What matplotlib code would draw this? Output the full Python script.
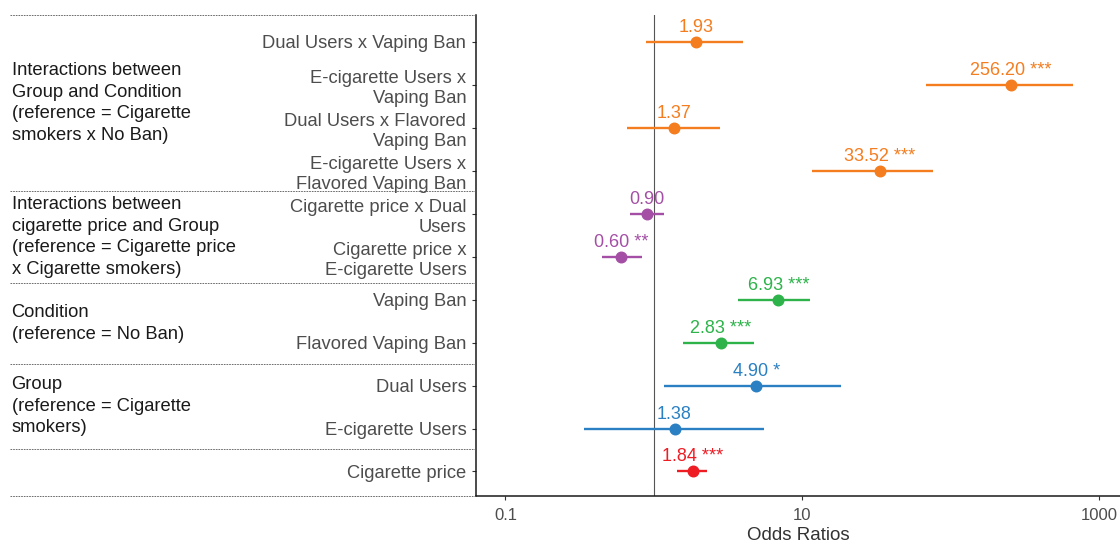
import matplotlib
matplotlib.use("Agg")
import matplotlib.pyplot as plt
from matplotlib.lines import Line2D
from matplotlib.ticker import NullLocator
from matplotlib.transforms import blended_transform_factory
import numpy as np

plt.rcParams['font.family'] = ['Liberation Sans', 'DejaVu Sans']

# Model terms, listed top to bottom
terms = [
    "Dual Users x Vaping Ban",
    "E-cigarette Users x\nVaping Ban",
    "Dual Users x Flavored\nVaping Ban",
    "E-cigarette Users x\nFlavored Vaping Ban",
    "Cigarette price x Dual\nUsers",
    "Cigarette price x\nE-cigarette Users",
    "Vaping Ban",
    "Flavored Vaping Ban",
    "Dual Users",
    "E-cigarette Users",
    "Cigarette price",
]
odds_ratios = [1.93, 256.20, 1.37, 33.52, 0.90, 0.60, 6.93, 2.83, 4.90, 1.38, 1.84]
ci_lower = [0.89, 68.0, 0.66, 11.6, 0.69, 0.45, 3.72, 1.58, 1.18, 0.34, 1.43]
ci_upper = [3.97, 675.0, 2.78, 76.0, 1.17, 0.83, 11.3, 4.75, 18.2, 5.5, 2.27]
significance = ["", "***", "", "***", "", "**", "***", "***", "*", "", "***"]
term_block = ["interaction", "interaction", "interaction", "interaction",
              "price_group", "price_group",
              "condition", "condition",
              "group", "group",
              "price"]

block_colors = {
    "interaction": "#F47D20",
    "price_group": "#A44FA5",
    "condition": "#2DB34A",
    "group": "#2A80C2",
    "price": "#EE1D24",
}

# Section headings for the left-hand table
section_titles = [
    "Interactions between\nGroup and Condition\n(reference = Cigarette\nsmokers x No Ban)",
    "Interactions between\ncigarette price and Group\n(reference = Cigarette price\nx Cigarette smokers)",
    "Condition\n(reference = No Ban)",
    "Group\n(reference = Cigarette\nsmokers)",
    "",
]
section_edges = [-0.62, 3.47, 5.62, 7.49, 9.48, 10.57]

x_ticks = [0.1, 10, 1000]
x_tick_labels = ["0.1", "10", "1000"]

W, H = 1120, 544
fig = plt.figure(figsize=(W / 100, H / 100), dpi=100)
ax = fig.add_axes([476 / W, 48 / H, (W - 476) / W, 481 / H])

rows = np.arange(len(terms))
ax.axvline(1, color="#555555", lw=0.8, zorder=1)

for i, (orv, lo, hi, sig, blk) in enumerate(zip(odds_ratios, ci_lower, ci_upper,
                                                significance, term_block)):
    c = block_colors[blk]
    ax.plot([lo, hi], [i, i], color=c, lw=1.7, solid_capstyle="butt", zorder=3)
    ax.plot(orv, i, "o", ms=7.6, color=c, mec=c, zorder=4)
    label = f"{orv:.2f}" + (f" {sig}" if sig else "")
    ax.annotate(label, (orv, i), xytext=(0, 7.2), textcoords="offset points",
                ha="center", va="baseline", color=c, fontsize=13)

ax.set_xscale("log")
ax.set_xlim(0.0633, 1390)
ax.set_ylim(10.57, -0.62)
ax.set_xticks(x_ticks)
ax.set_xticklabels(x_tick_labels)
ax.xaxis.set_minor_locator(NullLocator())
ax.set_yticks(rows)
ax.set_yticklabels(terms, linespacing=1.28)

for lab in ax.get_yticklabels():
    lab.set_fontsize(13.2)
    lab.set_color("#4D4D4D")
for lab in ax.get_xticklabels():
    lab.set_fontsize(12)
    lab.set_color("#4D4D4D")

ax.tick_params(axis="y", length=3, width=0.8, color="#333333", pad=4)
ax.tick_params(axis="x", length=3, width=0.8, color="#333333", pad=6)
for side in ("top", "right"):
    ax.spines[side].set_visible(False)
for side in ("left", "bottom"):
    ax.spines[side].set_linewidth(1.1)
    ax.spines[side].set_color("#1a1a1a")

ax.set_xlabel("Odds Ratios", fontsize=13.5, color="#333333", labelpad=2.5)

# Dotted separators and headings of the left-hand table
trans = blended_transform_factory(fig.transFigure, ax.transData)
for yb in section_edges:
    fig.add_artist(Line2D([10 / W, 476 / W], [yb, yb], transform=trans,
                          ls=(0, (2, 1.2)), lw=0.6, color="#555555"))
for title, top, bottom in zip(section_titles, section_edges[:-1], section_edges[1:]):
    if title:
        fig.text(11.5 / W, (top + bottom) / 2, title, transform=trans,
                 ha="left", va="center", fontsize=13.2, color="#1a1a1a",
                 linespacing=1.35)

fig.savefig("out.png", dpi=100)
